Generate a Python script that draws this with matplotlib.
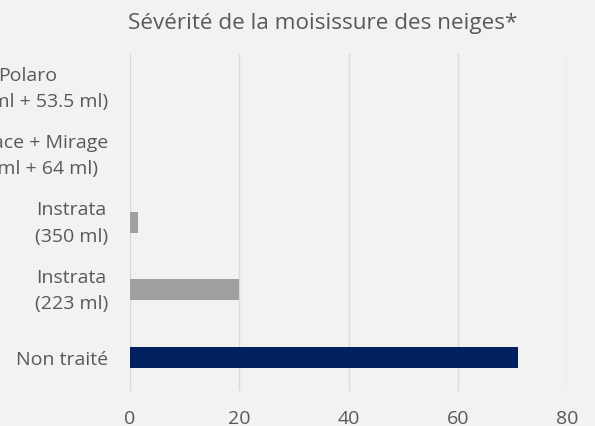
import matplotlib
matplotlib.use("Agg")
import matplotlib.pyplot as plt
import matplotlib.transforms as mtransforms

categories = ["Non traité", "Instrata\n(223 ml)", "Instrata\n(350 ml)",
              "Interface + Mirage\n(190 ml + 64 ml)", "Polaro\n(223 ml + 53.5 ml)"]
values = [71, 20, 1.5, 0, 0]
colors = ["#002060", "#A0A0A0", "#A0A0A0", "#A0A0A0", "#A0A0A0"]
xticks = [0, 20, 40, 60, 80]
title = "Sévérité de la moisissure des neiges*"

plt.rcParams['font.family'] = ['Open Sans', 'DejaVu Sans']
txt = "#595959"
bg = "#F2F2F2"

fig = plt.figure(figsize=(5.95, 4.27), dpi=100, facecolor=bg)
ax = fig.add_axes([130/595, (427-392)/427, (567-130)/595, (392-55)/427], facecolor=bg)
y = list(range(len(categories)))
ax.barh(y, values, height=0.31, color=colors, zorder=3)
ax.set_xlim(0, 80)
ax.set_ylim(-0.5, len(categories) - 0.5)
ax.set_xticks(xticks)
ax.set_xticklabels([str(t) for t in xticks], fontsize=14, color=txt)
ax.set_yticks(y)
ax.set_yticklabels(categories, fontsize=14, color=txt, ha="right",
                   multialignment="center", linespacing=1.6)
ax.tick_params(axis="both", length=0)
ax.tick_params(axis="x", pad=13)
ax.tick_params(axis="y", pad=16)
ax.grid(axis="x", color="#D9D9D9", linewidth=1, zorder=0)
for s in ax.spines.values():
    s.set_visible(False)
shift = mtransforms.ScaledTranslation(0, 0.06, fig.dpi_scale_trans)
for lab in ax.get_yticklabels():
    if "\n" in lab.get_text():
        lab.set_transform(lab.get_transform() + shift)
fig.text(323/595, 1 - 24/427, title, ha="center", va="center", fontsize=16.2, color=txt)
fig.savefig("out.png", dpi=100, facecolor=bg)
